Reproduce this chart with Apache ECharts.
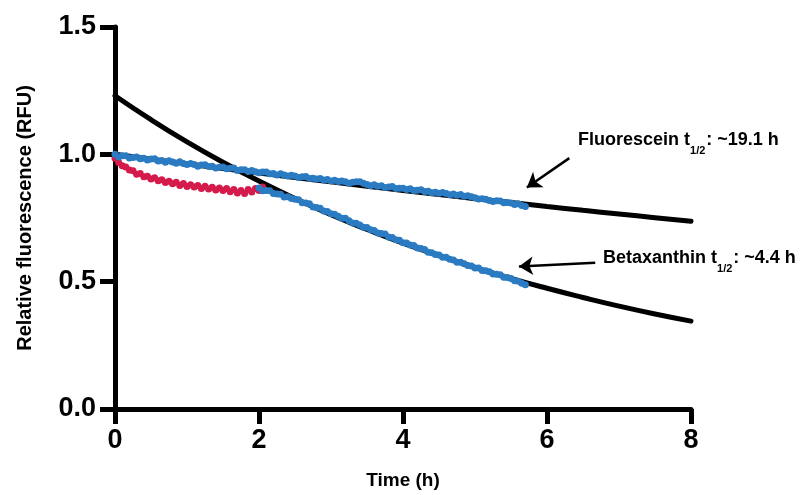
<!DOCTYPE html>
<html>
<head>
<meta charset="utf-8">
<script src="https://cdn.jsdelivr.net/npm/echarts@6/dist/echarts.min.js"></script>
<style>
  html, body { margin: 0; padding: 0; background: #fff; }
  #chart { width: 812px; height: 495px; }
</style>
</head>
<body>
<div id="chart"></div>
<script>
// Time axis ticks (h) and value ticks (RFU)
const xTicks = [0, 2, 4, 6, 8];
const yTicks = [0.0, 0.5, 1.0, 1.5];

// Sampling step of the plate-reader traces (h)
const traceStep = 0.05;

// Fluorescein trace, 0 – 5.70 h
const fluoresceinTrace = [
  1.000, 0.990, 0.994, 0.994, 0.986, 0.988, 0.990, 0.983, 0.985, 0.978,
  0.982, 0.983, 0.974, 0.976, 0.969, 0.975, 0.970, 0.965, 0.971, 0.964,
  0.960, 0.964, 0.960, 0.953, 0.958, 0.959, 0.952, 0.953, 0.946, 0.949,
  0.950, 0.943, 0.945, 0.946, 0.937, 0.939, 0.939, 0.933, 0.937, 0.932,
  0.928, 0.931, 0.931, 0.924, 0.925, 0.919, 0.924, 0.919, 0.915, 0.918,
  0.915, 0.909, 0.912, 0.913, 0.905, 0.906, 0.903, 0.905, 0.899, 0.901,
  0.895, 0.898, 0.893, 0.895, 0.892, 0.886, 0.890, 0.892, 0.892, 0.886,
  0.882, 0.877, 0.881, 0.875, 0.877, 0.870, 0.872, 0.874, 0.866, 0.867,
  0.867, 0.862, 0.865, 0.858, 0.859, 0.861, 0.854, 0.855, 0.849, 0.851,
  0.847, 0.850, 0.846, 0.841, 0.844, 0.839, 0.842, 0.835, 0.837, 0.833,
  0.830, 0.825, 0.826, 0.824, 0.819, 0.815, 0.818, 0.817, 0.810, 0.811,
  0.809, 0.803, 0.806, 0.799, 0.795
];

// Betaxanthin trace, first segment 0 – 2.05 h
const betaxanthinEarly = [
  0.985, 0.968, 0.955, 0.950, 0.938, 0.936, 0.922, 0.925, 0.912, 0.914,
  0.903, 0.908, 0.896, 0.900, 0.889, 0.894, 0.884, 0.890, 0.878, 0.885,
  0.874, 0.881, 0.872, 0.878, 0.866, 0.875, 0.864, 0.871, 0.860, 0.868,
  0.858, 0.866, 0.853, 0.862, 0.848, 0.858, 0.846, 0.862, 0.852, 0.866,
  0.858, 0.872
];

// Betaxanthin trace, second segment 2.00 – 5.70 h
const betaxanthinLateStart = 2.0;
const betaxanthinLate = [
  0.868, 0.857, 0.858, 0.857, 0.846, 0.844, 0.843, 0.832, 0.833, 0.827,
  0.824, 0.822, 0.810, 0.809, 0.806, 0.793, 0.791, 0.788, 0.777, 0.776,
  0.767, 0.765, 0.757, 0.749, 0.749, 0.739, 0.730, 0.729, 0.723, 0.714,
  0.713, 0.704, 0.701, 0.691, 0.689, 0.687, 0.675, 0.673, 0.665, 0.663,
  0.653, 0.652, 0.644, 0.642, 0.632, 0.630, 0.626, 0.616, 0.614, 0.607,
  0.605, 0.596, 0.596, 0.588, 0.585, 0.576, 0.576, 0.570, 0.563, 0.562,
  0.554, 0.554, 0.544, 0.543, 0.539, 0.530, 0.529, 0.527, 0.517, 0.516,
  0.512, 0.504, 0.502, 0.494, 0.488
];

// One-phase decay fits, sampled every 0.5 h from 0 to 8 h
const fitStep = 0.5;
const fluoresceinFit = [
  1.000, 0.981, 0.963, 0.944, 0.927, 0.909, 0.892, 0.875, 0.858,
  0.842, 0.826, 0.811, 0.795, 0.780, 0.766, 0.751, 0.737
];
const betaxanthinFit = [
  1.230, 1.136, 1.049, 0.969, 0.895, 0.827, 0.763, 0.705, 0.651,
  0.602, 0.556, 0.513, 0.474, 0.438, 0.404, 0.373, 0.345
];

// Annotation arrows: [from, to] in (h, RFU)
const fluoresceinArrow = [[6.31, 0.985], [5.72, 0.870]];
const betaxanthinArrow = [[6.67, 0.574], [5.61, 0.560]];

const FONT = '"Liberation Sans", Arial, Helvetica, sans-serif';
const BLUE = '#2a7bc2';
const RED = '#d41b4b';

function toPairs(values, start, step) {
  return values.map((v, i) => [+(start + i * step).toFixed(3), v]);
}

const chart = echarts.init(document.getElementById('chart'), null, { renderer: 'canvas' });

const arrowLine = (pts) => ({
  silent: true,
  symbol: ['none', 'arrow'],
  symbolSize: 14,
  label: { show: false },
  lineStyle: { color: '#000', width: 2.5, type: 'solid', opacity: 1 },
  itemStyle: { color: '#000' },
  emphasis: { disabled: true },
  data: [[{ coord: pts[0] }, { coord: pts[1] }]]
});

const annot = (main, tail) => ({
  type: 'text',
  z: 10,
  style: {
    text: '{a|' + main + '}{s|1/2}{a|: ' + tail + '}',
    rich: {
      a: { fontFamily: FONT, fontWeight: 'bold', fontSize: 18, lineHeight: 20, verticalAlign: 'top', fill: '#000' },
      s: { fontFamily: FONT, fontWeight: 'bold', fontSize: 11, lineHeight: 12, padding: [14, 1, 0, 0], verticalAlign: 'top', fill: '#000' }
    }
  }
});

const traceSeries = (name, color, data) => ({
  name,
  type: 'scatter',
  symbol: 'circle',
  symbolSize: 7,
  z: 5,
  itemStyle: { color, opacity: 1 },
  data
});

chart.setOption({
  animation: false,
  backgroundColor: '#fff',
  grid: { left: 115, right: 121, top: 27, bottom: 84, containLabel: false },
  xAxis: {
    type: 'value',
    min: xTicks[0],
    max: xTicks[xTicks.length - 1],
    interval: xTicks[1] - xTicks[0],
    name: 'Time (h)',
    nameLocation: 'middle',
    nameGap: 62,
    nameTextStyle: { fontFamily: FONT, fontWeight: 'bold', fontSize: 19, color: '#000' },
    axisLine: { show: true, onZero: false, lineStyle: { color: '#000', width: 5 } },
    axisTick: { show: true, inside: false, length: 15, lineStyle: { color: '#000', width: 5 } },
    axisLabel: { fontFamily: FONT, fontWeight: 'bold', fontSize: 27, color: '#000', margin: 18 },
    splitLine: { show: false }
  },
  yAxis: {
    type: 'value',
    min: yTicks[0],
    max: yTicks[yTicks.length - 1],
    interval: yTicks[1] - yTicks[0],
    name: 'Relative fluorescence (RFU)',
    nameLocation: 'middle',
    nameGap: 80,
    nameTextStyle: { fontFamily: FONT, fontWeight: 'bold', fontSize: 20, color: '#000' },
    axisLine: { show: true, onZero: false, lineStyle: { color: '#000', width: 5 } },
    axisTick: { show: true, inside: false, length: 15, lineStyle: { color: '#000', width: 5 } },
    axisLabel: {
      fontFamily: FONT, fontWeight: 'bold', fontSize: 27, color: '#000', margin: 19,
      formatter: (v) => v.toFixed(1)
    },
    splitLine: { show: false }
  },
  series: [
    {
      name: 'Fluorescein fit',
      type: 'line',
      smooth: true,
      symbol: 'none',
      z: 2,
      lineStyle: { color: '#000', width: 5, cap: 'round' },
      data: toPairs(fluoresceinFit, 0, fitStep),
      markLine: arrowLine(fluoresceinArrow)
    },
    {
      name: 'Betaxanthin fit',
      type: 'line',
      smooth: true,
      symbol: 'none',
      z: 2,
      lineStyle: { color: '#000', width: 5, cap: 'round' },
      data: toPairs(betaxanthinFit, 0, fitStep),
      markLine: arrowLine(betaxanthinArrow)
    },
    traceSeries('Betaxanthin (0–2 h)', RED, toPairs(betaxanthinEarly, 0, traceStep)),
    traceSeries('Fluorescein', BLUE, toPairs(fluoresceinTrace, 0, traceStep)),
    traceSeries('Betaxanthin (2–6 h)', BLUE, toPairs(betaxanthinLate, betaxanthinLateStart, traceStep))
  ],
  graphic: [
    Object.assign(annot('Fluorescein t', '~19.1 h'), { left: 578, top: 131 }),
    Object.assign(annot('Betaxanthin t', '~4.4 h'), { left: 603, top: 249 })
  ]
});
</script>
</body>
</html>
